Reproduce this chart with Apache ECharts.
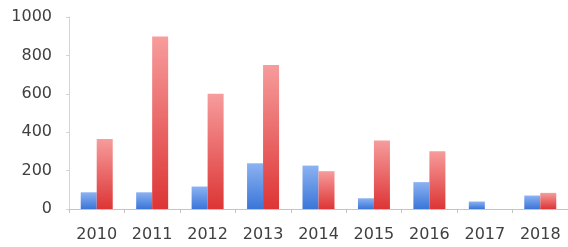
<!DOCTYPE html>
<html>
<head>
<meta charset="utf-8">
<script src="https://cdn.jsdelivr.net/npm/echarts@6/dist/echarts.min.js"></script>
<style>
  html, body { margin: 0; padding: 0; background: #fff; }
  #chart { width: 568px; height: 247px; }
</style>
</head>
<body>
<div id="chart"></div>
<script>
const years = ['2010', '2011', '2012', '2013', '2014', '2015', '2016', '2017', '2018']
const blueValues = [87, 87, 117, 238, 226, 56, 140, 39, 70]
const redValues = [365, 898, 600, 750, 197, 357, 301, 0, 84]
const yTicks = [0, 200, 400, 600, 800, 1000]

const chart = echarts.init(document.getElementById('chart'))

const blueFill = new echarts.graphic.LinearGradient(0, 0, 0, 1, [
  { offset: 0, color: '#8cb2f2' },
  { offset: 1, color: '#3a76d8' }
])
const redFill = new echarts.graphic.LinearGradient(0, 0, 0, 1, [
  { offset: 0, color: '#f79c9c' },
  { offset: 1, color: '#dd3535' }
])

const labelFont = {
  color: '#404040',
  fontSize: 16,
  fontFamily: 'DejaVu Sans'
}

chart.setOption({
  animation: false,
  grid: { left: 69, right: -3, top: 17, bottom: 38 },
  xAxis: {
    type: 'category',
    data: years,
    axisLine: { lineStyle: { color: '#c4c4c4', width: 1 } },
    axisTick: { show: true, length: 4, lineStyle: { color: '#c4c4c4' } },
    axisLabel: { ...labelFont, margin: 18 }
  },
  yAxis: {
    type: 'value',
    min: yTicks[0],
    max: yTicks[yTicks.length - 1],
    interval: 200,
    axisLine: { show: true, lineStyle: { color: '#d4d4d4', width: 1 } },
    axisTick: { show: true, length: 3, lineStyle: { color: '#d4d4d4' } },
    splitLine: { show: false },
    axisLabel: { ...labelFont, margin: 17, formatter: v => String(v) }
  },
  series: [
    {
      type: 'bar',
      data: blueValues,
      barWidth: 16,
      barGap: '0%',
      itemStyle: { color: blueFill }
    },
    {
      type: 'bar',
      data: redValues,
      barWidth: 16,
      itemStyle: { color: redFill }
    }
  ]
})
</script>
</body>
</html>
